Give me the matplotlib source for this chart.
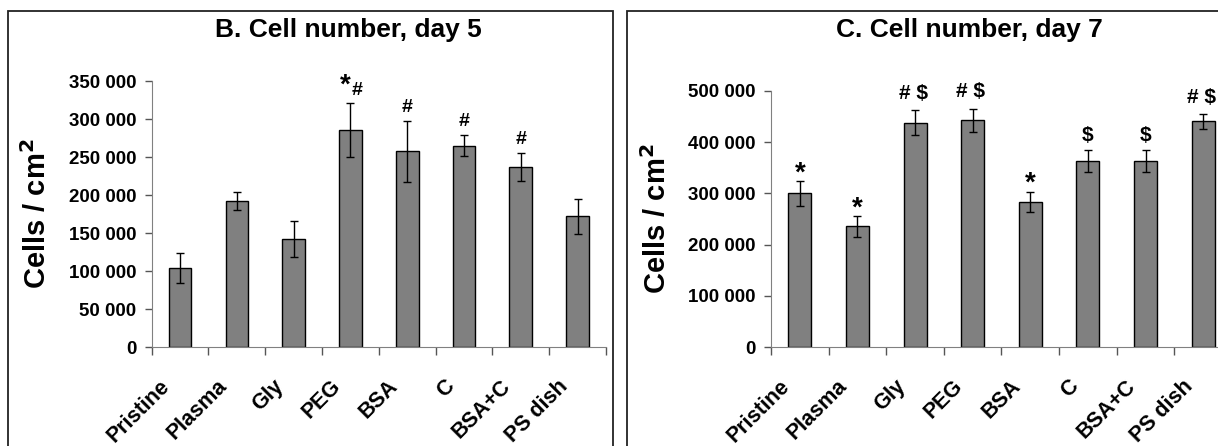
import matplotlib
matplotlib.use("Agg")
import matplotlib.pyplot as plt
from matplotlib import font_manager
from matplotlib.patches import Rectangle
from matplotlib.ticker import FuncFormatter, FixedLocator
from matplotlib.transforms import ScaledTranslation

# data
categories = ['Pristine', 'Plasma', 'Gly', 'PEG', 'BSA', 'C', 'BSA+C', 'PS dish']

day5_mean = [104000, 192500, 142000, 285500, 257500, 265000, 237000, 172000]
day5_err = [19700, 12000, 23900, 35700, 40300, 13500, 18800, 23200]
day5_marks = ['', '', '', '*#', '#', '#', '#', '']

day7_mean = [300000, 236000, 438000, 442000, 283000, 363000, 363000, 440000]
day7_err = [23700, 20100, 23700, 23000, 20100, 20500, 20500, 14600]
day7_marks = ['*', '*', '# $', '# $', '*', '$', '$', '# $']

names = {f.name for f in font_manager.fontManager.ttflist}
base = 'Liberation Sans'
narrow = 'Liberation Sans Narrow' if 'Liberation Sans Narrow' in names else base
plt.rcParams['font.family'] = base
plt.rcParams['font.weight'] = 'bold'

W, H = 1218, 446
fig = plt.figure(figsize=(W / 100, H / 100), dpi=100)

# frames round each panel
fig.patches.append(Rectangle((8 / W, -0.05), (613 - 8) / W, 1.05 - 10.7 / H,
                             transform=fig.transFigure, fill=False, lw=1.3, ec='#222222'))
fig.patches.append(Rectangle((627 / W, -0.05), 0.6, 1.05 - 10.7 / H,
                             transform=fig.transFigure, fill=False, lw=1.3, ec='#222222'))

fmt = FuncFormatter(lambda v, p: f"{v:,.0f}".replace(',', ' '))

# ink centre of each mark (fraction of font size above baseline)
ink = {'*': 0.58, '#': 0.36, '$': 0.35, '# $': 0.35}


def mark(ax, x, y, s, px_up, dx_px=0, fs=14):
    dy = px_up * 0.72 - ink[s] * fs
    ax.annotate(s, (x, y), xytext=(dx_px * 0.72, dy), textcoords='offset points',
                ha='center', va='baseline', fontsize=fs, fontweight='bold', family=narrow)


def panel(rect, mean, err, marks, ymax, step, title, title_x):
    ax = fig.add_axes(rect)
    xs = [i + 0.5 for i in range(len(categories))]
    ax.bar(xs, mean, width=0.4, color='#808080', edgecolor='black', linewidth=1,
           yerr=err, capsize=3, error_kw=dict(elinewidth=1, capthick=1, ecolor='black'))
    ax.set_xlim(0, len(categories))
    ax.set_ylim(0, ymax)
    ax.set_yticks(range(0, ymax + 1, step))
    ax.yaxis.set_major_formatter(fmt)
    ax.xaxis.set_major_locator(FixedLocator(range(len(categories) + 1)))
    ax.set_xticklabels([])
    ax.tick_params(axis='x', length=6, width=1, color='#555555')
    ax.tick_params(axis='y', length=5, width=1, color='#555555', pad=6)
    for lab in ax.get_yticklabels():
        lab.set_fontsize(13.5)
        lab.set_family(narrow)
    # category labels, slanted
    shift = ax.get_xaxis_transform() + ScaledTranslation(-0.13, -0.36, fig.dpi_scale_trans)
    for x, c in zip(xs, categories):
        ax.text(x, 0, c, transform=shift, rotation=45, rotation_mode='anchor',
                ha='right', va='center', fontsize=15.5, family=narrow, clip_on=False)
    for s in ['top', 'right']:
        ax.spines[s].set_visible(False)
    for s in ['left', 'bottom']:
        ax.spines[s].set_color('#808080')
    ax.set_ylabel('Cells / cm$^\\mathbf{2}$', fontsize=21, fontweight='bold', labelpad=12)
    fig.text(title_x / W, 1 - 30 / H, title, ha='center', va='center',
             fontsize=19, fontweight='bold', family=narrow)
    for i, s in enumerate(marks):
        top = mean[i] + err[i]
        if s == '*#':
            mark(ax, xs[i], top, '*', 26.6, -5.5, fs=20)
            mark(ax, xs[i], top, '#', 15, 6.8)
        elif s == '*':
            mark(ax, xs[i], top, s, 16.8, 0, fs=20)
        elif s == '# $':
            mark(ax, xs[i], top, s, 18.7, -2, fs=15)
        elif s == '$':
            mark(ax, xs[i], top, s, 17, fs=15)
        elif s:
            mark(ax, xs[i], top, s, 16)
    return ax


panel([151.7 / W, 1 - 347.3 / H, (606 - 151.7) / W, (347.3 - 81) / H],
      day5_mean, day5_err, day5_marks, 350000, 50000, 'B. Cell number, day 5', 348)
panel([771 / W, 1 - 347.3 / H, (1232 - 771) / W, (347.3 - 90.7) / H],
      day7_mean, day7_err, day7_marks, 500000, 100000, 'C. Cell number, day 7', 969)

fig.savefig('out.png', dpi=100)
